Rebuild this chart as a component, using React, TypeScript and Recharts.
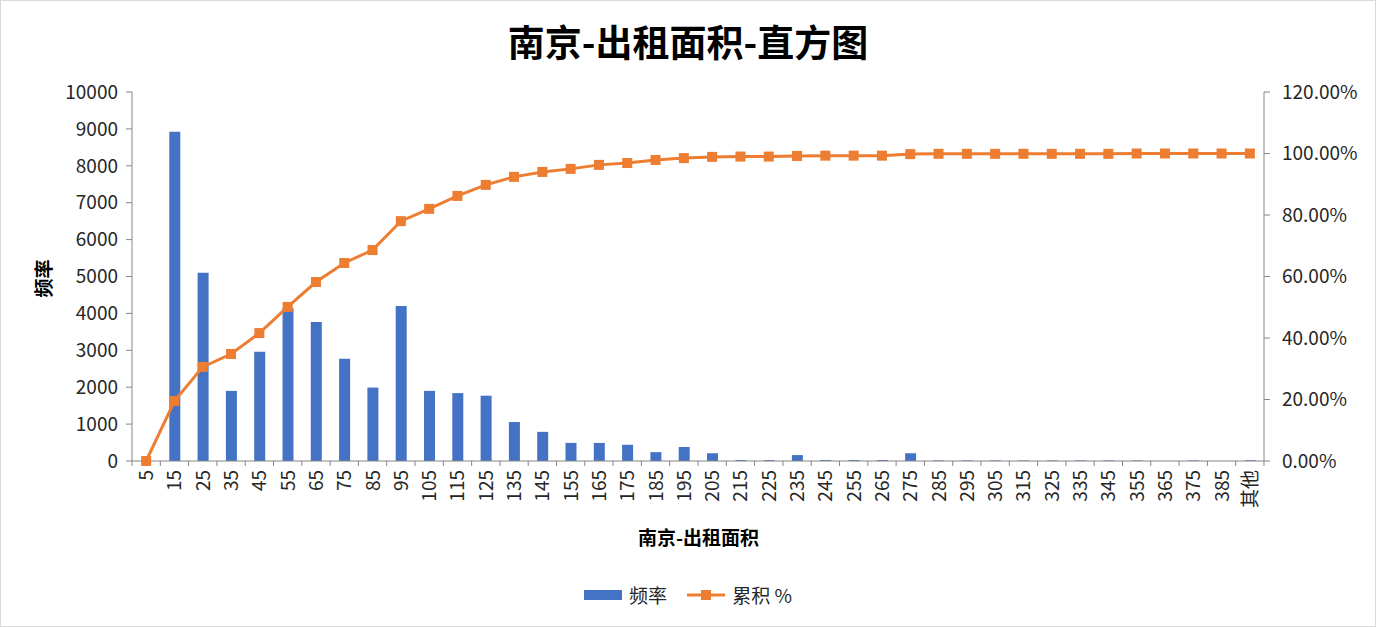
import React from 'react';
import { ComposedChart, Bar, Line, XAxis, YAxis } from 'recharts';

document.body.style.margin = '0';

const categories = [
  '5', '15', '25', '35', '45', '55', '65', '75', '85', '95',
  '105', '115', '125', '135', '145', '155', '165', '175', '185', '195',
  '205', '215', '225', '235', '245', '255', '265', '275', '285', '295',
  '305', '315', '325', '335', '345', '355', '365', '375', '385', '其他',
];

const frequency = [
  0, 8920, 5100, 1900, 2960, 4140, 3770, 2770, 1990, 4200,
  1900, 1840, 1770, 1060, 790, 490, 490, 440, 240, 380,
  210, 25, 25, 160, 25, 25, 25, 210, 15, 15,
  15, 15, 15, 15, 15, 15, 0, 15, 0, 20,
];

const cumulative = [
  0, 0.195, 0.306, 0.348, 0.416, 0.501, 0.582, 0.644, 0.686, 0.78,
  0.82, 0.862, 0.898, 0.924, 0.94, 0.95, 0.963, 0.969, 0.979, 0.985,
  0.989, 0.99, 0.99, 0.992, 0.993, 0.993, 0.993, 0.998, 0.999, 0.999,
  0.999, 0.999, 0.999, 0.999, 0.999, 1.0, 1.0, 1.0, 1.0, 1.0,
];

const leftTicks = [0, 1000, 2000, 3000, 4000, 5000, 6000, 7000, 8000, 9000, 10000];
const rightTicks = [0, 0.2, 0.4, 0.6, 0.8, 1.0, 1.2];

const data = categories.map((cat, i) => ({
  cat,
  freq: frequency[i],
  cum: cumulative[i],
}));

const FONT = '"Noto Sans CJK SC", "Noto Sans", sans-serif';
const BLUE = '#4472C4';
const ORANGE = '#ED7D31';
const AXIS = '#868686';
const TEXT = '#262626';
const BAND_HALF = 1131 / 40 / 2;

const CategoryTick = ({ x, y, payload, index }: any) => {
  const last = index === categories.length - 1;
  return (
    <g>
      <line x1={x - BAND_HALF} y1={y - 8} x2={x - BAND_HALF} y2={y - 3} stroke={AXIS} />
      {last && <line x1={x + BAND_HALF} y1={y - 8} x2={x + BAND_HALF} y2={y - 3} stroke={AXIS} />}
      <text
        x={x + 7}
        y={y + 1}
        transform={`rotate(-90, ${x + 7}, ${y + 1})`}
        textAnchor="end"
        fontSize={19}
        fontFamily={FONT}
        fill={TEXT}
      >
        {payload.value}
      </text>
    </g>
  );
};

const SquareDot = ({ cx, cy }: any) => {
  if (cx == null || cy == null) return null;
  return <rect x={cx - 5} y={cy - 5} width={10} height={10} fill={ORANGE} />;
};

export default function App() {
  return (
    <div
      style={{
        position: 'relative',
        width: 1376,
        height: 627,
        boxSizing: 'border-box',
        border: '1px solid #d9d9d9',
        background: '#fff',
        fontFamily: FONT,
      }}
    >
      <div
        style={{
          position: 'absolute', top: 12, left: 0, width: '100%', textAlign: 'center',
          fontSize: 37, fontWeight: 'bold', color: '#000', lineHeight: '56px',
        }}
      >
        南京-出租面积-直方图
      </div>
      <div
        style={{
          position: 'absolute', left: 21, top: 264, fontSize: 19, fontWeight: 'bold', color: '#000',
          transform: 'rotate(-90deg)', transformOrigin: 'center', width: 40, textAlign: 'center',
        }}
      >
        频率
      </div>
      <div
        style={{
          position: 'absolute', top: 522, left: 132, width: 1131, textAlign: 'center',
          fontSize: 19, fontWeight: 'bold', color: '#000', lineHeight: '28px',
        }}
      >
        南京-出租面积
      </div>
      <div
        style={{
          position: 'absolute', top: 580, left: 0, width: '100%', display: 'flex',
          justifyContent: 'center', alignItems: 'center', fontSize: 19, color: TEXT, lineHeight: '28px',
        }}
      >
        <span style={{ display: 'inline-block', width: 38, height: 10, background: BLUE, marginRight: 7 }} />
        <span style={{ marginRight: 20 }}>频率</span>
        <svg width={38} height={12} style={{ marginRight: 7 }}>
          <line x1={0} y1={6} x2={38} y2={6} stroke={ORANGE} strokeWidth={3} />
          <rect x={14} y={1} width={10} height={10} fill={ORANGE} />
        </svg>
        <span>累积 %</span>
      </div>
      <ComposedChart
        width={1374}
        height={625}
        data={data}
        margin={{ top: 91, right: 31, bottom: 105, left: 71 }}
        barCategoryGap={0}
      >
        <XAxis
          dataKey="cat"
          interval={0}
          tick={<CategoryTick />}
          tickLine={false}
          axisLine={{ stroke: AXIS }}
          height={60}
        />
        <YAxis
          yAxisId="left"
          domain={[0, 10000]}
          ticks={leftTicks}
          interval={0}
          width={60}
          axisLine={{ stroke: AXIS }}
          tickLine={{ stroke: AXIS }}
          tickSize={6}
          tickMargin={8}
          tick={{ fontSize: 19, fill: TEXT, fontFamily: FONT }}
        />
        <YAxis
          yAxisId="right"
          orientation="right"
          domain={[0, 1.2]}
          ticks={rightTicks}
          interval={0}
          width={80}
          axisLine={{ stroke: AXIS }}
          tickLine={{ stroke: AXIS }}
          tickSize={6}
          tickMargin={12}
          tick={{ fontSize: 19, fill: TEXT, fontFamily: FONT }}
          tickFormatter={(v: number) => `${(v * 100).toFixed(2)}%`}
        />
        <Bar yAxisId="left" dataKey="freq" name="频率" fill={BLUE} barSize={11} isAnimationActive={false} />
        <Line
          yAxisId="right"
          dataKey="cum"
          name="累积 %"
          stroke={ORANGE}
          strokeWidth={3}
          dot={<SquareDot />}
          activeDot={false}
          isAnimationActive={false}
        />
      </ComposedChart>
    </div>
  );
}
